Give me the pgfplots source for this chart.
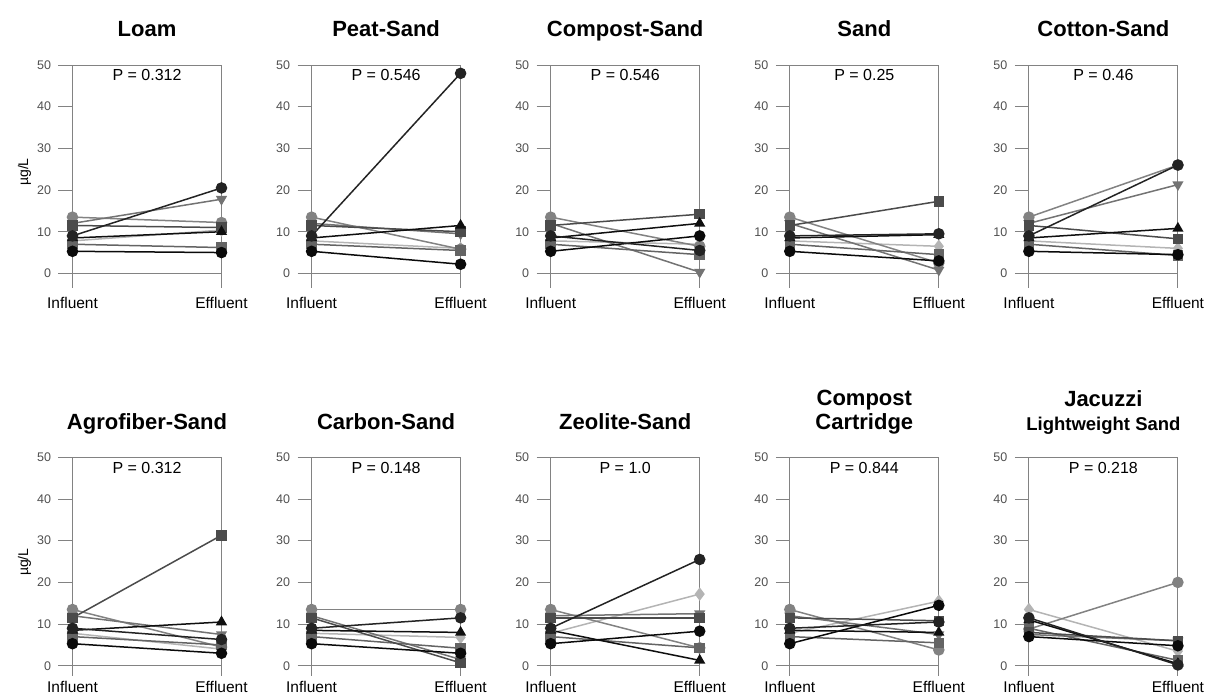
\documentclass[border=0pt]{standalone}
\usepackage{fontspec}
\setmainfont{Liberation Sans}
\usepackage{pgfplots}
\pgfplotsset{compat=1.18}
\definecolor{axgray}{RGB}{130,130,130}
\definecolor{lblgray}{RGB}{80,80,80}
\definecolor{c1}{RGB}{10,10,10}
\definecolor{c2}{RGB}{100,100,100}
\definecolor{c3}{RGB}{180,180,180}
\definecolor{c4}{RGB}{15,15,15}
\definecolor{c5}{RGB}{35,35,35}
\definecolor{c6}{RGB}{75,75,75}
\definecolor{c7}{RGB}{115,115,115}
\definecolor{c8}{RGB}{130,130,130}

\pgfplotsset{
  panel/.style={
    scale only axis, width=149bp,
    xmin=0, xmax=1, ymax=50,
    xtick={0,1}, xticklabels={Influent,Effluent},
    ytick={0,10,...,50},
    ytick pos=left, tick align=outside,
    major tick length=14bp,
    axis line style={draw=none},
    ytick style={axgray, line width=0.9bp},
    xtick style={draw=none},
    yticklabel style={font=\fontsize{12.5bp}{13bp}\selectfont, text=lblgray, xshift=-4bp},
    xticklabel style={font=\fontsize{15.5bp}{17bp}\selectfont, anchor=base},
    /pgf/number format/assume math mode=true,
    clip=false,
  },
  row1/.style={panel, height=223bp, ymin=-3.5,
    xticklabel style={yshift=-6.5bp}},
  row2/.style={panel, height=218.5bp, ymin=-2.4,
    xticklabel style={yshift=-3bp}},
  ser/.style={line width=1.5bp, mark size=5bp, mark options={solid}},
  s1/.style={ser, color=c1, mark=*},
  s2/.style={ser, color=c2, mark=square*, mark size=4.5bp},
  s3/.style={ser, color=c3, mark=diamond*, mark size=5.5bp},
  s4/.style={ser, color=c4, mark=triangle*},
  s5/.style={ser, color=c5, mark=*},
  s6/.style={ser, color=c6, mark=square*, mark size=4.5bp},
  s7/.style={ser, color=c7, mark=triangle*, mark options={rotate=180}},
  s8/.style={ser, color=c8, mark=*},
}

% one sample: influent -> effluent
\newcommand{\pr}[3]{\addplot[#1] coordinates {(0,#2)(1,#3)};}
% frame: left and right lines, top line at 50, line at 0
\newcommand{\frm}{%
  \draw[axgray, line width=0.9bp] (rel axis cs:0,0) -- (rel axis cs:0,1)
    -- (rel axis cs:1,1) -- (rel axis cs:1,0);
  \draw[axgray, line width=0.9bp] (axis cs:0,0) -- (axis cs:1,0);}
% eight samples with the common influent values
\newcommand{\std}[8]{%
  \pr{s3}{7.8}{#3}\pr{s8}{13.5}{#8}\pr{s7}{12}{#7}\pr{s2}{7.0}{#2}%
  \pr{s6}{11.5}{#6}\pr{s4}{8.5}{#4}\pr{s1}{5.3}{#1}\pr{s5}{9.0}{#5}}
\newcommand{\ttl}[1]{\node[font=\bfseries\fontsize{22bp}{24bp}\selectfont, anchor=base]
  at (rel axis cs:0.5,1) [yshift=28bp] {#1};}
\newcommand{\pval}[1]{\node[font=\fontsize{16bp}{18bp}\selectfont, anchor=base]
  at (axis cs:0.5,50) [yshift=-16bp] {#1};}
\newcommand{\mugl}{\node[font=\fontsize{14bp}{15bp}\selectfont, rotate=90, anchor=center]
  at ([xshift=-48bp]rel axis cs:0,0.52) {µg/L};}

\begin{document}
\begin{tikzpicture}
\useasboundingbox (0,0) rectangle (1208bp,700bp);

% ---------- row 1 ----------
\begin{axis}[row1, at={(72.5bp,635bp)}, anchor=north west]
\frm
\std{5.0}{6.2}{10.4}{10}{20.5}{11}{17.8}{12.2}
\ttl{Loam}
\pval{P = 0.312}
\mugl
\end{axis}

\begin{axis}[row1, at={(311.6bp,635bp)}, anchor=north west]
\frm
\std{2.2}{5.5}{6}{11.5}{48}{10}{9.5}{5.8}
\ttl{Peat-Sand}
\pval{P = 0.546}
\end{axis}

\begin{axis}[row1, at={(550.7bp,635bp)}, anchor=north west]
\frm
\std{9}{4.5}{7}{12}{5.5}{14.2}{0.3}{6.5}
\ttl{Compost-Sand}
\pval{P = 0.546}
\end{axis}

\begin{axis}[row1, at={(789.8bp,635bp)}, anchor=north west]
\frm
\std{3}{4.5}{6.5}{9.3}{9.5}{17.3}{0.8}{2.5}
\ttl{Sand}
\pval{P = 0.25}
\end{axis}

\begin{axis}[row1, at={(1028.9bp,635bp)}, anchor=north west]
\frm
\std{4.5}{4.3}{6}{10.8}{26}{8.3}{21.3}{26}
\ttl{Cotton-Sand}
\pval{P = 0.46}
\end{axis}

% ---------- row 2 ----------
\begin{axis}[row2, at={(72.5bp,242.7bp)}, anchor=north west]
\frm
\std{3}{5}{4}{10.5}{6.3}{31.3}{7.5}{4.5}
\ttl{Agrofiber-Sand}
\pval{P = 0.312}
\mugl
\end{axis}

\begin{axis}[row2, at={(311.6bp,242.7bp)}, anchor=north west]
\frm
\std{3}{4.2}{6.8}{8}{11.5}{0.7}{1.5}{13.5}
\ttl{Carbon-Sand}
\pval{P = 0.148}
\end{axis}

\begin{axis}[row2, at={(550.7bp,242.7bp)}, anchor=north west]
\frm
\std{8.3}{4.3}{17.2}{1.3}{25.5}{11.5}{12.5}{4.3}
\ttl{Zeolite-Sand}
\pval{P = 1.0}
\end{axis}

\begin{axis}[row2, at={(789.8bp,242.7bp)}, anchor=north west]
\frm
\std{14.5}{5.5}{15.5}{8}{10.5}{10.8}{7.5}{3.8}
\node[font=\bfseries\fontsize{22bp}{24bp}\selectfont, anchor=base]
  at (rel axis cs:0.5,1) [yshift=52bp] {Compost};
\ttl{Cartridge}
\pval{P = 0.844}
\end{axis}

\begin{axis}[row2, at={(1028.9bp,242.7bp)}, anchor=north west]
\frm
\pr{s3}{13.5}{3.5}\pr{s8}{8.8}{20}\pr{s7}{7.5}{6}\pr{s2}{9}{1.3}
\pr{s6}{8}{6}\pr{s4}{11}{0.5}\pr{s1}{7}{4.8}\pr{s5}{11.5}{0.2}
\node[font=\bfseries\fontsize{22bp}{24bp}\selectfont, anchor=base]
  at (rel axis cs:0.5,1) [yshift=51bp] {Jacuzzi};
\node[font=\bfseries\fontsize{18.5bp}{20bp}\selectfont, anchor=base]
  at (rel axis cs:0.5,1) [yshift=27bp] {Lightweight Sand};
\pval{P = 0.218}
\end{axis}
\end{tikzpicture}
\end{document}
